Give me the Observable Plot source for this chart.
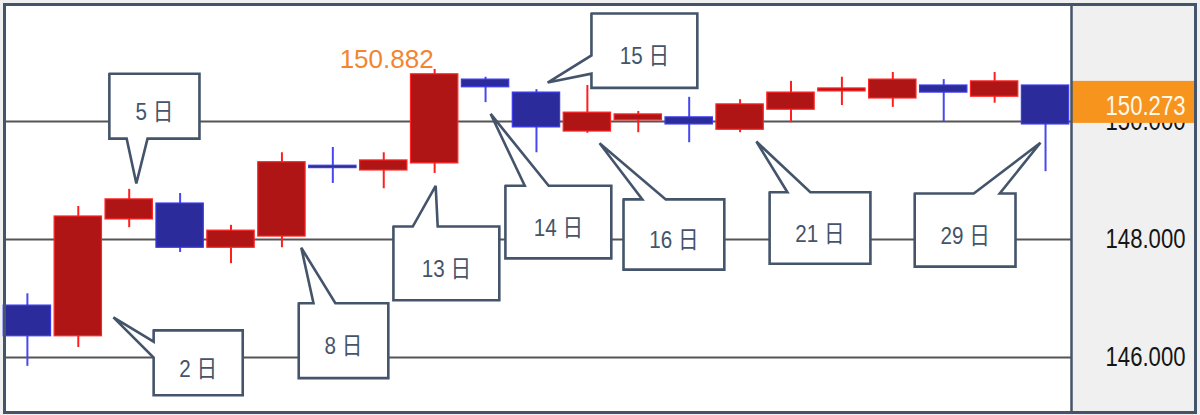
<!DOCTYPE html>
<html><head><meta charset="utf-8">
<script src="https://cdn.jsdelivr.net/npm/d3@7"></script>
<script src="https://cdn.jsdelivr.net/npm/@observablehq/plot@0.6"></script>
<style>
html,body{margin:0;padding:0;background:#fff;}
#chart svg{display:block;}
</style>
</head><body><div id="chart"></div>
<script>
// USD/JPY daily candles, February 2024 (trading days)
const days  = [1, 2, 5, 6, 7, 8, 9, 12, 13, 14, 15, 16, 19, 20, 21, 22, 23, 26, 27, 28, 29];
const open  = [146.88, 146.36, 148.34, 148.61, 147.86, 148.05, 149.25, 149.17, 149.29, 150.71, 150.49, 149.83, 150.02, 150.07, 149.86, 150.20, 150.51, 150.39, 150.61, 150.42, 150.61];
const high  = [147.08, 148.56, 148.85, 148.78, 148.24, 149.47, 149.56, 149.47, 150.882, 150.75, 150.54, 150.61, 150.17, 150.41, 150.37, 150.68, 150.75, 150.83, 150.71, 150.83, 150.61];
const low   = [145.85, 146.17, 148.20, 147.78, 147.59, 147.86, 148.95, 148.86, 149.12, 150.32, 149.47, 149.80, 149.81, 149.64, 149.81, 149.98, 150.27, 150.24, 150.00, 150.31, 149.15];
const close = [146.36, 148.39, 148.68, 147.86, 148.15, 149.31, 149.21, 149.34, 150.80, 150.58, 149.90, 150.15, 150.12, 149.95, 150.29, 150.49, 150.56, 150.71, 150.49, 150.68, 149.95];

const gridTicks = [146, 148, 150];
const highLabel = 150.882;     // period high label
const highDay = 13;
const currentPrice = 150.273;  // price tag on the axis

// callout annotations (box and pointer in data units: x = candle index, y = price)
const callouts = [
  {day: 2,  box: [2.48, 4.23, 146.46, 145.36], side: "left",   base: [146.00, 146.27], tip: [1.69, 146.68]},
  {day: 5,  box: [1.61, 3.38, 150.81, 149.71], side: "bottom", base: [1.95, 2.36],     tip: [2.14, 148.95]},
  {day: 8,  box: [5.33, 7.09, 146.92, 145.65], side: "top",    base: [5.62, 6.05],     tip: [5.38, 147.86]},
  {day: 13, box: [7.19, 9.27, 148.22, 146.97], side: "top",    base: [7.57, 8.06],     tip: [8.02, 148.91]},
  {day: 14, box: [9.39, 11.47, 148.91, 147.68], side: "top",   base: [9.77, 10.24],    tip: [9.10, 150.13]},
  {day: 15, box: [11.08, 13.16, 151.83, 150.57], side: "left", base: [150.81, 151.12], tip: [10.22, 150.66]},
  {day: 16, box: [11.71, 13.69, 148.68, 147.49], side: "top",  base: [12.08, 12.54],   tip: [11.24, 149.63]},
  {day: 21, box: [14.58, 16.56, 148.80, 147.59], side: "top",  base: [14.93, 15.38],   tip: [14.32, 149.66]},
  {day: 29, box: [17.43, 19.41, 148.78, 147.54], side: "top",  base: [18.59, 19.10],   tip: [19.90, 149.64]}
];

const candles = days.map((d, i) => ({
  i, day: d, open: open[i], high: high[i], low: low[i], close: close[i], up: close[i] >= open[i]
}));

// build callout outline polygons
const calloutPts = [];
for (const c of callouts) {
  const [x1, x2, yT, yB] = c.box;
  const label = `${c.day} 日`;
  let pts = [[x1, yT]];
  if (c.side === "top") pts.push([c.base[0], yT], c.tip, [c.base[1], yT]);
  pts.push([x2, yT], [x2, yB]);
  if (c.side === "bottom") pts.push([c.base[1], yB], c.tip, [c.base[0], yB]);
  pts.push([x1, yB]);
  if (c.side === "left") pts.push([x1, c.base[0]], c.tip, [x1, c.base[1]]);
  pts.push([x1, yT]);
  pts.forEach(([x, y], k) => calloutPts.push({label, k, x, y}));
}
const calloutLabels = callouts.map(c => ({
  label: `${c.day} 日`, x: (c.box[0] + c.box[1]) / 2, y: (c.box[2] + c.box[3]) / 2
}));

const font = "'Liberation Sans', Arial, 'Noto Sans CJK JP', sans-serif";
const calloutColor = "#44546a";
const fmt = d => d.toFixed(3);

const chart = Plot.plot({
  width: 1200,
  height: 415,
  marginLeft: 5,
  marginRight: 129,
  marginTop: 5,
  marginBottom: 3,
  x: {type: "linear", domain: [-0.43, 20.51], axis: null},
  y: {domain: [145.068, 151.966], axis: null},
  style: {background: "#f0f0f0", overflow: "visible"},
  marks: [
    Plot.frame({fill: "white", stroke: "none"}),
    Plot.ruleY(gridTicks, {stroke: "#555555", strokeWidth: 2.2}),
    Plot.axisY(gridTicks, {
      anchor: "right", tickSize: 0, tickPadding: 114, textAnchor: "end",
      tickFormat: fmt, fontSize: 28, fontFamily: font, fill: "#151515", label: null
    }),
    Plot.rect([currentPrice], {
      y1: d => d, y2: d => d, insetLeft: 1066, insetRight: -124, insetTop: -24, insetBottom: -18,
      fill: "#f7941d"
    }),
    Plot.text([currentPrice], {
      y: d => d, text: fmt, frameAnchor: "right", textAnchor: "end", dx: 114, dy: 1,
      fill: "#fff8ec", fontSize: 28, fontFamily: font
    }),
    Plot.ruleX(candles, {
      x: "i", y1: "low", y2: "high", strokeWidth: 2,
      stroke: d => d.up ? "#ff1f1f" : "#4848f0"
    }),
    Plot.rect(candles, {
      x1: d => d.i - 0.465, x2: d => d.i + 0.465, y1: "open", y2: "close",
      fill: d => d.up ? "#b01515" : "#2b2b9c",
      stroke: d => d.up ? "#ff2424" : "#3a3af0", strokeWidth: 1.2
    }),
    Plot.line(calloutPts, {
      x: "x", y: "y", z: "label", sort: "k", fill: "white", stroke: calloutColor, strokeWidth: 2.6,
      strokeLinejoin: "miter", strokeMiterlimit: 3, curve: "linear"
    }),
    Plot.text(calloutLabels, {
      x: "x", y: "y", text: "label", dy: 6, fill: calloutColor, fontSize: 24, fontFamily: font
    }),
    Plot.text([highLabel], {
      x: days.indexOf(highDay), y: d => d, text: fmt, textAnchor: "end", lineAnchor: "bottom",
      dy: -1, dx: -1, fill: "#f38530", fontSize: 26, fontFamily: font
    }),
    Plot.frame({anchor: "right", stroke: "#44546a", strokeWidth: 2.5})
  ]
});

// condense the axis-style and callout labels horizontally (the reference uses a narrow face)
const axisLabels = new Set([...gridTicks.map(fmt), fmt(currentPrice)]);
d3.select(chart).selectAll("text").each(function() {
  const t = this.textContent;
  let k = 0;
  if (axisLabels.has(t)) k = 0.79;
  else if (t.endsWith("日")) k = 0.86;
  if (!k) return;
  const el = d3.select(this);
  const tr = el.attr("transform");
  if (tr && !el.attr("x")) {
    el.attr("transform", `${tr} scale(${k},1)`);
  } else {
    el.attr("textLength", this.getComputedTextLength() * k).attr("lengthAdjust", "spacingAndGlyphs");
  }
});

// outer border
d3.select(chart).append("rect")
  .attr("x", 4.5).attr("y", 4.5).attr("width", 1191).attr("height", 408)
  .attr("fill", "none").attr("stroke", "#44546a").attr("stroke-width", 3);

document.getElementById("chart").appendChild(chart);
</script>
</body></html>
